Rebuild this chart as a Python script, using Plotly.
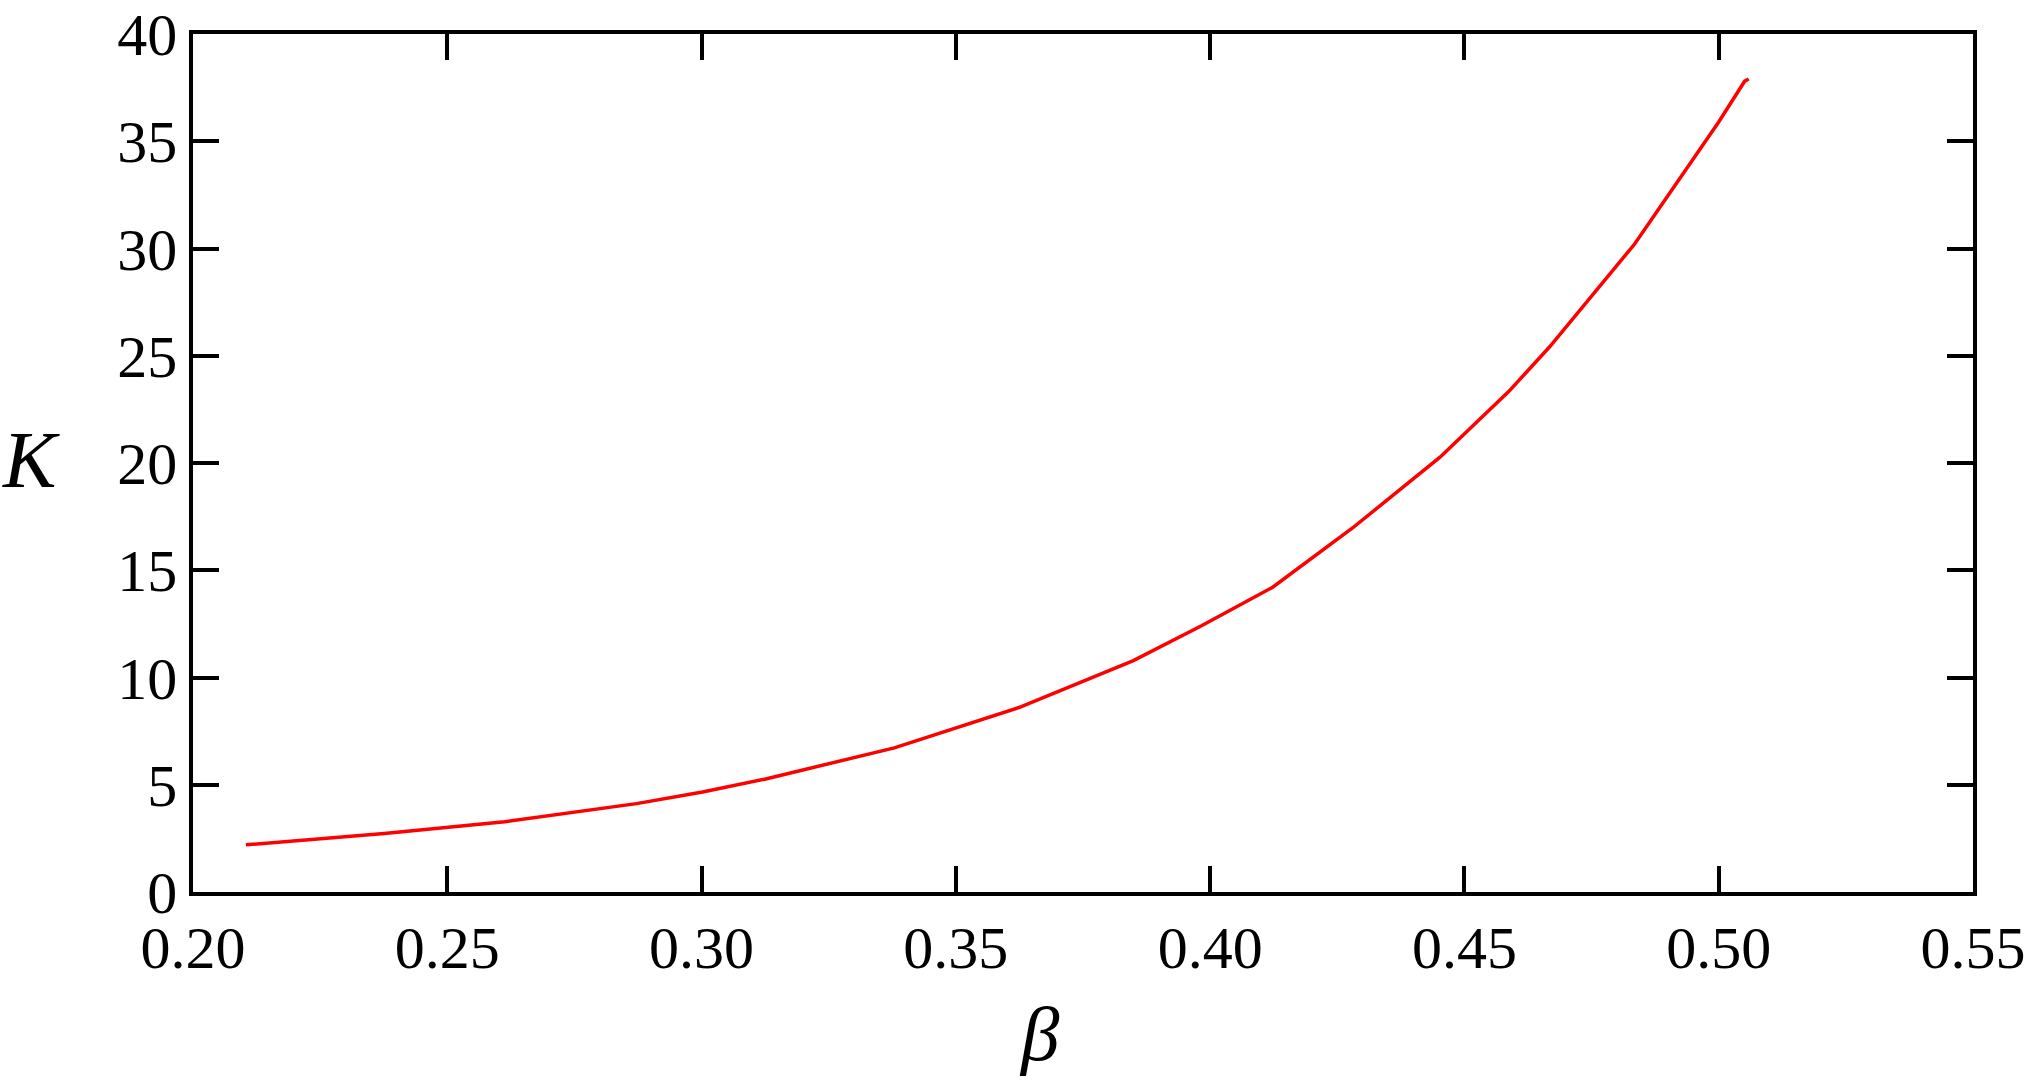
import plotly.graph_objects as go

beta = [0.2104, 0.2376, 0.2613, 0.2872, 0.3002, 0.3126, 0.3379, 0.3624, 0.3849,
        0.3983, 0.4123, 0.4280, 0.4452, 0.4587, 0.4668, 0.4835, 0.5000, 0.5051, 0.5059]
K = [2.20, 2.73, 3.28, 4.12, 4.66, 5.27, 6.72, 8.60, 10.79,
     12.41, 14.21, 16.97, 20.27, 23.33, 25.43, 30.22, 35.90, 37.80, 37.90]

x_ticks = [0.20, 0.25, 0.30, 0.35, 0.40, 0.45, 0.50, 0.55]
x_tick_labels = ["0.20", "0.25", "0.30", "0.35", "0.40", "0.45", "0.50", "0.55"]
y_ticks = [0, 5, 10, 15, 20, 25, 30, 35, 40]

FONT = "Liberation Serif"

fig = go.Figure()
fig.add_trace(go.Scatter(x=beta, y=K, mode="lines",
                         line=dict(color="#ff0000", width=3.5), showlegend=False))

axis_common = dict(showline=True, linecolor="black", linewidth=3.5, mirror="ticks",
                   ticks="inside", ticklen=26, tickwidth=3.5, tickcolor="black",
                   showgrid=False, zeroline=False, automargin=False,
                   ticklabeloverflow="allow",
                   tickfont=dict(family=FONT, size=60, color="black"))

fig.update_xaxes(range=[0.20, 0.55], tickvals=x_ticks, ticktext=x_tick_labels,
                 **axis_common)
fig.update_yaxes(range=[0, 40], tickvals=y_ticks, **axis_common)

fig.add_annotation(text="<i>K</i>", xref="paper", yref="paper", x=-0.091, y=0.5035,
                   showarrow=False, xanchor="center", yanchor="middle",
                   font=dict(family=FONT, size=80, color="black"))
fig.add_annotation(text="<i>β</i>", xref="paper", yref="paper", x=0.4755, y=-0.166,
                   showarrow=False, xanchor="center", yanchor="middle",
                   font=dict(family=FONT, size=77, color="black"))

fig.update_layout(width=2027, height=1084, plot_bgcolor="white", paper_bgcolor="white",
                  margin=dict(l=193, r=54, t=34, b=192))

fig.write_html("out.html", config={"displayModeBar": False},
               post_script="document.body.style.margin='0';document.body.style.overflow='hidden';")
